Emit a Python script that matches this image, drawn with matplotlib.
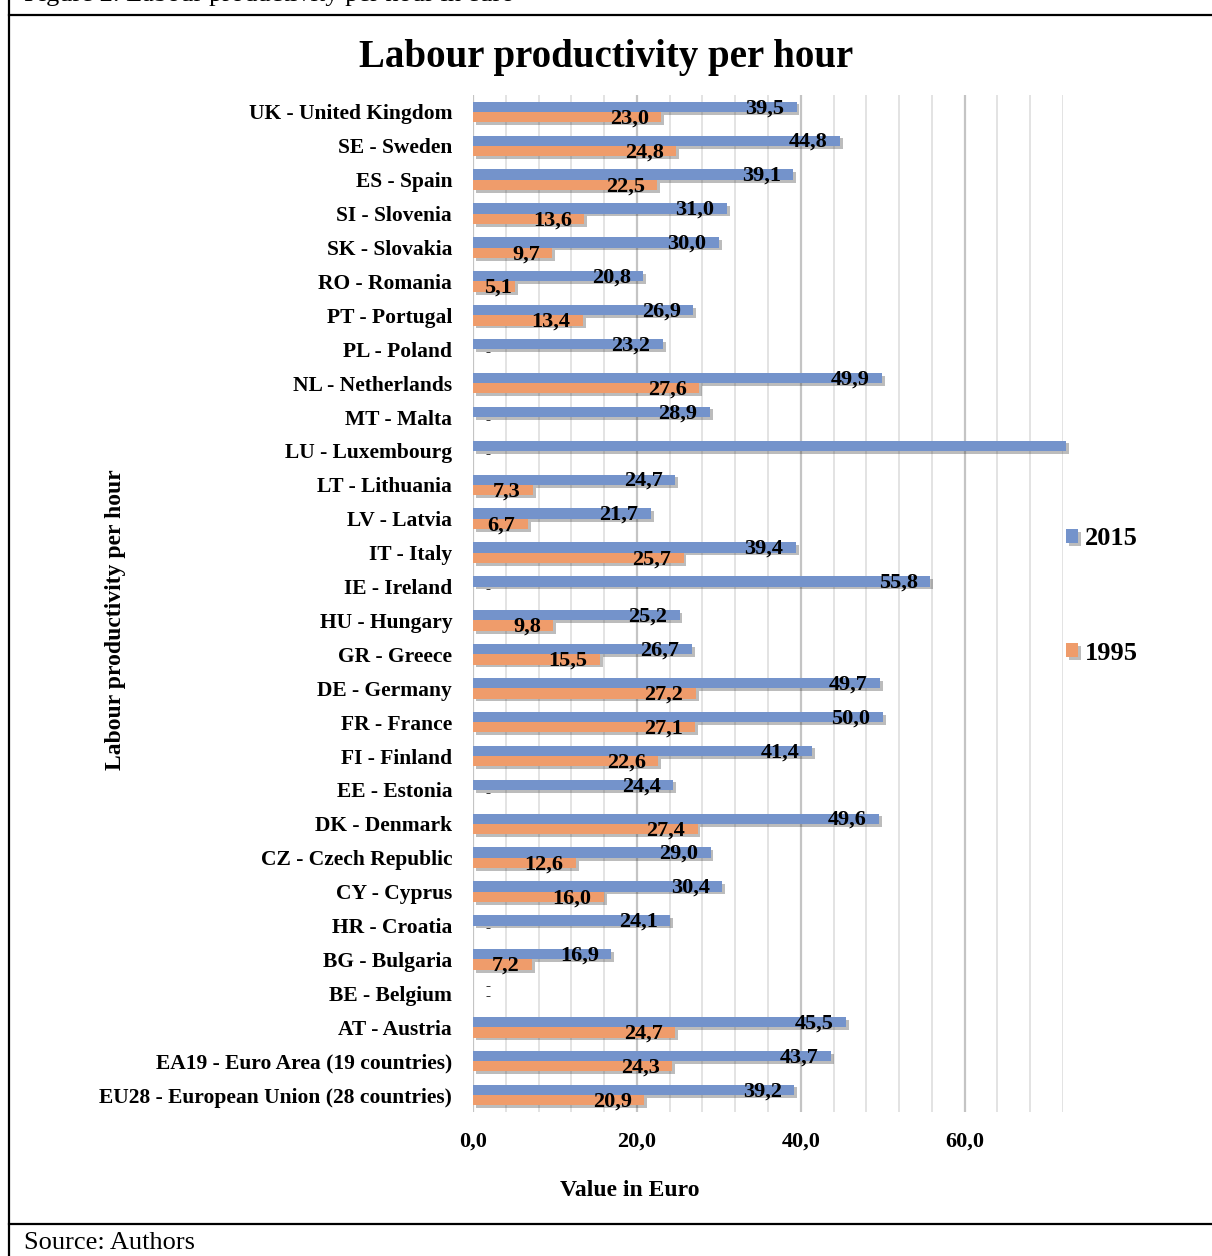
import numpy as np
import matplotlib
matplotlib.use("Agg")
import matplotlib.pyplot as plt
import matplotlib.patheffects as pe
from matplotlib.ticker import MultipleLocator, FuncFormatter
from matplotlib.lines import Line2D

# ---- data (top to bottom, as in the chart) ----
categories = [
    "UK - United Kingdom", "SE - Sweden", "ES - Spain", "SI - Slovenia",
    "SK - Slovakia", "RO - Romania", "PT - Portugal", "PL - Poland",
    "NL - Netherlands", "MT - Malta", "LU - Luxembourg", "LT - Lithuania",
    "LV - Latvia", "IT - Italy", "IE - Ireland", "HU - Hungary",
    "GR - Greece", "DE - Germany", "FR - France", "FI - Finland",
    "EE - Estonia", "DK - Denmark", "CZ - Czech Republic", "CY - Cyprus",
    "HR - Croatia", "BG - Bulgaria", "BE - Belgium", "AT - Austria",
    "EA19 - Euro Area (19 countries)", "EU28 - European Union (28 countries)",
]
val_2015 = [39.5, 44.8, 39.1, 31.0, 30.0, 20.8, 26.9, 23.2, 49.9, 28.9,
            72.4, 24.7, 21.7, 39.4, 55.8, 25.2, 26.7, 49.7, 50.0, 41.4,
            24.4, 49.6, 29.0, 30.4, 24.1, 16.9, None, 45.5, 43.7, 39.2]
val_1995 = [23.0, 24.8, 22.5, 13.6, 9.7, 5.1, 13.4, None, 27.6, None,
            None, 7.3, 6.7, 25.7, None, 9.8, 15.5, 27.2, 27.1, 22.6,
            None, 27.4, 12.6, 16.0, None, 7.2, None, 24.7, 24.3, 20.9]
series_names = ["2015", "1995"]

# ---- styling ----
plt.rcParams["font.family"] = ["Liberation Serif", "DejaVu Serif"]
plt.rcParams["font.weight"] = "bold"
plt.rcParams["axes.labelweight"] = "bold"
blue = "#7493CB"
orange = "#EF9C6B"

fig = plt.figure(figsize=(12.12, 12.56), dpi=100)
W, H = 1212, 1256
ax = fig.add_axes([473 / W, 1 - 1112 / H, 590 / W, 1017 / H])

n = len(categories)
ypos = np.arange(n)[::-1]
bh = 0.305

shadow = [pe.SimplePatchShadow(offset=(2, -2), shadow_rgbFace="#404040", alpha=0.35),
          pe.Normal()]

for vals, off, col, name in [(val_2015, bh / 2, blue, series_names[0]),
                             (val_1995, -bh / 2, orange, series_names[1])]:
    widths = np.array([np.nan if v is None else v for v in vals], dtype=float)
    bars = ax.barh(ypos + off, np.nan_to_num(widths), height=bh, color=col,
                   label=name, clip_on=False, zorder=3)
    for b, v in zip(bars, widths):
        b.set_path_effects(shadow)
        y = b.get_y() + b.get_height() / 2
        if np.isnan(v):
            ax.text(1.8, y + 0.05, "-", ha="center", va="center", fontsize=11, zorder=4)
        else:
            lab = f"{v:.1f}".replace(".", ",")
            ax.annotate(lab, xy=(max(v, 6.3), y), xytext=(-9, -1),
                        textcoords="offset points", ha="right", va="center",
                        fontsize=16, zorder=4)

ax.set_xlim(0, 72)
ax.set_ylim(-0.5, n - 0.5)
ax.set_yticks(ypos)
ax.set_yticklabels(categories, fontsize=15.5)
ax.xaxis.set_major_locator(MultipleLocator(20))
ax.xaxis.set_minor_locator(MultipleLocator(4))
ax.xaxis.set_major_formatter(FuncFormatter(lambda x, p: f"{x:.1f}".replace(".", ",")))
ax.tick_params(axis="x", which="both", length=0, pad=14, labelsize=16)
ax.tick_params(axis="y", length=0, pad=15)
ax.grid(axis="x", which="minor", color="#E3E3E3", lw=1.4, zorder=0)
ax.grid(axis="x", which="major", color="#C4C4C4", lw=1.6, zorder=0)
for s in ax.spines.values():
    s.set_visible(False)

ax.set_xlabel("Value in Euro", fontsize=17)
ax.xaxis.set_label_coords((630 - 473) / 590, -(1180 - 1112) / 1017)
ax.set_ylabel("Labour productivity per hour", fontsize=17, va="center")
ax.yaxis.set_label_coords((116 - 473) / 590, 1 - (620 - 95) / 1017)

fig.text(0.5, 1 - 57 / H, "Labour productivity per hour", ha="center", va="center",
         fontsize=28)

leg = ax.legend(loc="center left", bbox_to_anchor=(1066 / W, 1 - 596 / H),
                bbox_transform=fig.transFigure, frameon=False, fontsize=19,
                handlelength=0.45, handleheight=0.45, handletextpad=0.25,
                labelspacing=3.45, borderaxespad=0, borderpad=0)

# ---- surrounding table frame and captions ----
lk = dict(color="black", lw=1.6, transform=fig.transFigure)
fig.add_artist(Line2D([9 / W, 9 / W], [0, 1], **lk))
fig.add_artist(Line2D([9 / W, 1], [1 - 15 / H, 1 - 15 / H], **lk))
fig.add_artist(Line2D([9 / W, 1], [1 - 1224 / H, 1 - 1224 / H], **lk))
fig.text(24 / W, 1 - 1 / H, "Figure 2. Labour productivity per hour in euro",
         ha="left", va="baseline", fontsize=19, fontweight="normal")
fig.text(24 / W, 1 - 1249 / H, "Source: Authors", ha="left", va="baseline",
         fontsize=19, fontweight="normal")

fig.savefig("out.png", dpi=100)
